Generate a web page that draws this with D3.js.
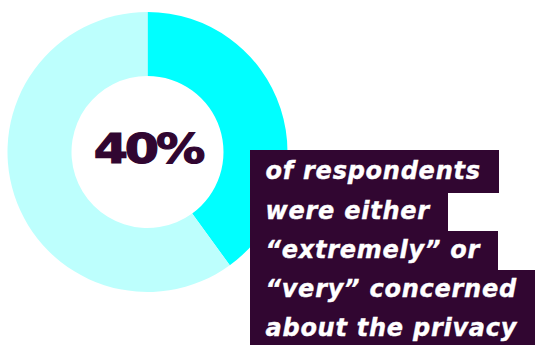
<!DOCTYPE html>
<html>
<head>
<meta charset="utf-8">
<script src="https://cdn.jsdelivr.net/npm/d3@7"></script>
<style>
  html, body { margin: 0; padding: 0; background: #ffffff; }
  svg { display: block; }
</style>
</head>
<body>
<svg id="chart" width="536" height="345"></svg>
<script>
// ---- data ----
const categories = ["Extremely or very concerned", "Other"];
const shares = [40, 60];
const headline = "40%";
const captionLines = [
  "of respondents",
  "were either",
  "\u201Cextremely\u201D or",
  "\u201Cvery\u201D concerned",
  "about the privacy"
];

// ---- style ----
const colors = ["#00ffff", "#bdfffd"];
const dark = "#310631";

const svg = d3.select("#chart");
const cx = 147.5, cy = 152, rOuter = 140, rInner = 76;

const pie = d3.pie().sort(null).value(d => d)
  .startAngle(0).endAngle(2 * Math.PI);
const arc = d3.arc().innerRadius(rInner).outerRadius(rOuter);
const color = d3.scaleOrdinal().domain(categories).range(colors);

const g = svg.append("g").attr("transform", `translate(${cx},${cy})`);
g.selectAll("path")
  .data(pie(shares))
  .join("path")
  .attr("d", arc)
  .attr("fill", (d, i) => color(categories[i]));

g.append("text")
  .attr("transform", "translate(0.5,10.5) scale(1.2,1)")
  .attr("text-anchor", "middle")
  .attr("font-family", "DejaVu Sans, sans-serif")
  .attr("font-weight", "bold")
  .attr("font-size", 41)
  .attr("letter-spacing", -2.5)
  .attr("fill", dark)
  .attr("stroke", dark)
  .attr("stroke-width", 1.2)
  .text(headline);

// ---- caption boxes ----
const boxX = 250, textX = 265.5, padR = 18;
const firstBaseline = 179.3, lineStep = 39.2, belowBase = 12.3, topFirst = 150;
const cap = svg.append("g");
const rows = cap.selectAll("g.row").data(captionLines).join("g").attr("class", "row");
const rects = rows.append("rect").attr("fill", dark).attr("shape-rendering", "crispEdges");
const texts = rows.append("text")
  .attr("x", textX)
  .attr("y", (d, i) => firstBaseline + i * lineStep)
  .attr("font-family", "DejaVu Sans, sans-serif")
  .attr("font-weight", "bold")
  .attr("font-style", "italic")
  .attr("font-size", 24)
  .attr("letter-spacing", 0.75)
  .attr("fill", "#ffffff")
  .attr("stroke", "#ffffff")
  .attr("stroke-width", 0.4)
  .text(d => d);

texts.each(function(d, i) {
  const len = this.getComputedTextLength();
  const top = i === 0 ? topFirst : Math.round(firstBaseline + (i - 1) * lineStep + belowBase);
  const bottom = Math.round(firstBaseline + i * lineStep + belowBase) + 1;
  d3.select(rects.nodes()[i])
    .attr("x", boxX)
    .attr("y", top)
    .attr("width", Math.round(textX - boxX + len + padR))
    .attr("height", bottom - top);
});
</script>
</body>
</html>
